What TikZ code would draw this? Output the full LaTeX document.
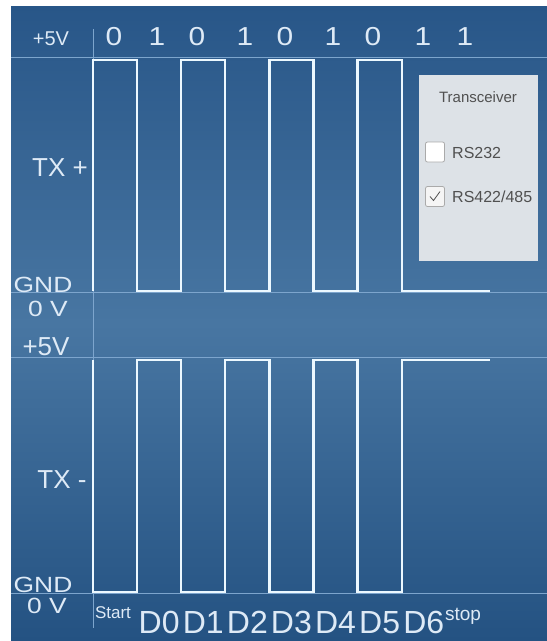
\documentclass[tikz,border=0pt]{standalone}
\usepackage{fontspec}
\usepackage{graphicx}
\setmainfont{Liberation Sans}
\definecolor{bgtop}{RGB}{40,86,136}
\definecolor{bgmid}{RGB}{72,118,162}
\definecolor{bgbot}{RGB}{36,82,130}
\definecolor{gridc}{RGB}{125,165,205}
\definecolor{wavec}{RGB}{236,248,255}
\definecolor{txtc}{RGB}{222,234,246}
\definecolor{panelc}{RGB}{221,226,231}
\definecolor{paneltxt}{RGB}{80,80,80}
\definecolor{boxedge}{RGB}{170,170,170}
\tikzset{
  gridline/.style={draw=gridc, line width=1pt},
  wave/.style={draw=wavec, line width=2.3pt, line join=miter},
  lbl/.style={text=txtc, inner sep=0pt, outer sep=0pt},
  fs/.style={font=\fontsize{#1}{#1}\selectfont},
  ptxt/.style={text=paneltxt, inner sep=0pt},
  chkbox/.style={draw=boxedge, line width=0.8pt, rounded corners=2pt, minimum width=19pt, minimum height=20pt, inner sep=0pt},
}
\begin{document}
\begin{tikzpicture}[x=1pt,y=-1pt]
\useasboundingbox (0,0) rectangle (547,641);
\fill[white] (0,0) rectangle (547,641);
\shade[top color=bgtop, bottom color=bgbot, middle color=bgmid] (11,6) rectangle (547,641);
% grid lines
\draw[gridline] (11,57) -- (547,57);
\draw[gridline] (11,292) -- (547,292);
\draw[gridline] (11,357) -- (547,357);
\draw[gridline] (11,593) -- (547,593);
\draw[gridline] (93,29) -- (93,628);
% TX+ waveform
\draw[wave] (93,291) -- (93,60) -- (137.1,60) -- (137.1,291) -- (181.2,291) -- (181.2,60)
  -- (225.3,60) -- (225.3,291) -- (269.4,291) -- (269.4,60) -- (313.5,60) -- (313.5,291)
  -- (357.6,291) -- (357.6,60) -- (401.7,60) -- (401.7,291) -- (489.9,291);
% TX- waveform
\draw[wave] (93,360) -- (93,592) -- (137.1,592) -- (137.1,360) -- (181.2,360) -- (181.2,592)
  -- (225.3,592) -- (225.3,360) -- (269.4,360) -- (269.4,592) -- (313.5,592) -- (313.5,360)
  -- (357.6,360) -- (357.6,592) -- (401.7,592) -- (401.7,360) -- (489.9,360);
% left labels
\node[lbl, fs=20] (p5a) at (51,39) {+5V};
\node[lbl, fs=26] (txp) at (60,168) {TX +};
\node[lbl, fs=22, anchor=base] (gnd1) at (43,292) {\scalebox{1.2}[1]{GND}};
\node[lbl, fs=22, anchor=base] (ov1) at (48,316) {\scalebox{1.2}[1]{0 V}};
\node[lbl, fs=26, anchor=base] (p5b) at (46,355) {+5V};
\node[lbl, fs=26] (txm) at (62,480) {TX -};
\node[lbl, fs=22, anchor=base] (gnd2) at (43,592) {\scalebox{1.2}[1]{GND}};
\node[lbl, fs=22, anchor=base] (ov2) at (47,613) {\scalebox{1.2}[1]{0 V}};
% bit values
\foreach \x/\v [count=\i] in {114/0,157/1,197/0,245/1,285/0,333/1,373/0,423/1,465/1}
  \node[lbl, fs=26, anchor=base] (bit\i) at (\x,45) {\scalebox{1.15}[1]{\v}};
% bit names
\node[lbl, fs=17, anchor=base west] (start) at (95,618) {Start};
\foreach \n [count=\i] in {0,...,6}
  \node[lbl, fs=32, anchor=base] (d\n) at ({93+44.1*\i+22.05},633) {D\n};
\node[lbl, fs=19, anchor=base west] (stop) at (445,620) {stop};
% panel
\node[fill=panelc, minimum width=119pt, minimum height=186pt, inner sep=0pt] (panel) at (478.5,168) {};
\node[ptxt, fs=15] (ttl) at (478,97) {Transceiver};
\node[chkbox, fill=white] (cb1) at (435,152) {};
\node[ptxt, fs=16, anchor=west] (rs232) at (452,153) {RS232};
\node[chkbox, fill=gray!8] (cb2) at (435,196.5) {};
\node[ptxt, fs=16, anchor=west] (rs422) at (452,197) {RS422/485};
\draw[paneltxt, line width=0.8pt] ([xshift=-5pt,yshift=0pt]cb2.center) -- ([xshift=-1.5pt,yshift=-4pt]cb2.center) -- ([xshift=5pt,yshift=5pt]cb2.center);
\end{tikzpicture}
\end{document}
